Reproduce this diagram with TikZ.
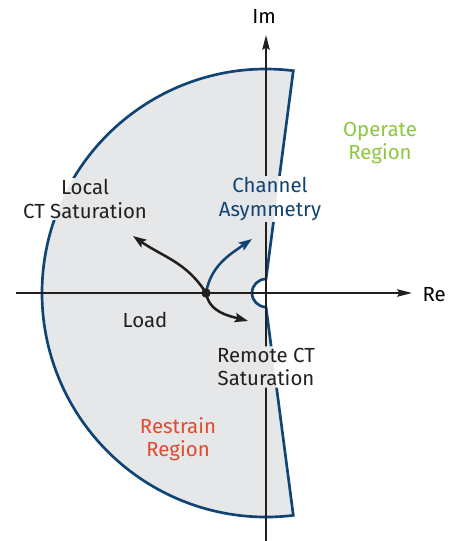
\documentclass[tikz,border=0pt]{standalone}
\usepackage{fontspec}
\setmainfont{Fira Sans}
\usetikzlibrary{arrows.meta,backgrounds}

\definecolor{regionfill}{RGB}{230,231,232}
\definecolor{lineblue}{RGB}{16,68,116}
\definecolor{operategreen}{RGB}{141,198,63}
\definecolor{restrainred}{RGB}{226,74,46}
\definecolor{inkblack}{RGB}{35,31,32}

\begin{document}
\begin{tikzpicture}[x=0.75pt,y=0.75pt,
		lbl/.style={align=center,font=\fontsize{15.3}{17.5}\selectfont,inner sep=1pt},
		axis/.style={draw=inkblack,line width=1.6pt,-{Stealth[length=11pt,width=5.5pt,inset=1.5pt]}},
		bend arrow/.style={line width=1.9pt,-{Stealth[length=10pt,width=7pt,inset=2pt]}}]
			\useasboundingbox (-266,-248) rectangle (184,293);

			% axis labels
			\node[lbl,anchor=west] (re) at (155,-2) {Re} ;
			\node[lbl] (im) at (-2,277) {Im} ;

			% region labels
			\node[lbl,text=operategreen] (operate) at (114,150) {Operate\\Region} ;
			\node[lbl,text=restrainred] (restrain) at (-88,-146) {Restrain\\Region} ;

			% fault labels
			\node[lbl,text=inkblack] (local) at (-181,94) {Local\\CT Saturation} ;
			\node[lbl,text=lineblue] (channel) at (4,94) {Channel\\Asymmetry} ;
			\node[lbl,text=inkblack] (load) at (-121,-27) {Load} ;
			\node[lbl,text=inkblack] (remote) at (0,-74) {Remote CT\\Saturation} ;

			% load point and arrows
			\coordinate (loadpt) at (-60,0) ;
			\coordinate (localtip) at (-133,57) ;
			\coordinate (channeltip) at (-14,54) ;
			\coordinate (remotetip) at (-18,-28) ;
			\draw [bend arrow,inkblack] (loadpt) to[out=122,in=-35] (localtip) ;
			\draw [bend arrow,lineblue] (loadpt) to[out=80,in=215] (channeltip) ;
			\draw [bend arrow,inkblack] (loadpt) to[out=-80,in=165] (remotetip) ;
			\fill [inkblack] (loadpt) circle [radius=4.7] ;

			\begin{scope}[on background layer]
				% restrain region
				\fill [regionfill] (27.3,222.3) arc [start angle=83,end angle=277,radius=224]
					-- (0,-14) arc [start angle=270,end angle=90,radius=14] -- cycle ;
				\begin{scope}[even odd rule]
					% keep the strokes out of the labels
					\clip (-266,-248) rectangle (184,293)
						(local.south west) rectangle (local.north east)
						(channel.south west) rectangle (channel.north east)
						(remote.south west) rectangle (remote.north east) ;
					\draw [lineblue,line width=2pt,line join=miter] (27.3,222.3) arc [start angle=83,end angle=277,radius=224]
						-- (0,-14) arc [start angle=270,end angle=90,radius=14] -- cycle ;
					% axes
					\draw [axis] (-250,0) -- (146,0) ;
					\draw [axis] (0,-248) -- (0,258) ;
				\end{scope}
			\end{scope}
		\end{tikzpicture}
\end{document}
